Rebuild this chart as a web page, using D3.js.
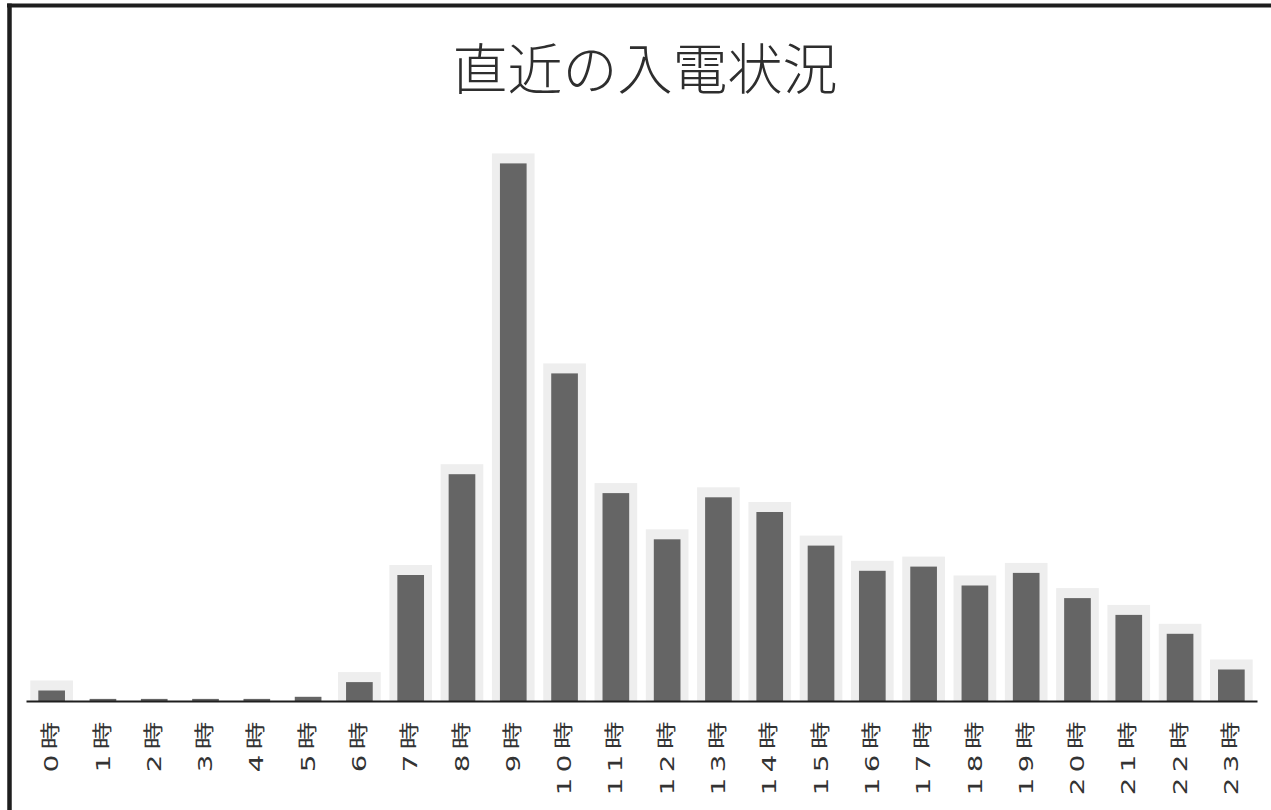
<!DOCTYPE html>
<html>
<head>
<meta charset="utf-8">
<script src="https://cdn.jsdelivr.net/npm/d3@7"></script>
<style>
  body { margin: 0; background: #fff; }
  svg { display: block; }
</style>
</head>
<body>
<div id="chart"></div>
<script>
// データ
const titleText = "直近の入電状況";
const hours = ["0時", "1時", "2時", "3時", "4時", "5時", "6時", "7時", "8時", "9時", "10時", "11時",
  "12時", "13時", "14時", "15時", "16時", "17時", "18時", "19時", "20時", "21時", "22時", "23時"];
const calls = [5, 1, 1, 1, 1, 2, 9, 60, 108, 256, 156, 99, 77, 97, 90, 74, 62, 64, 55, 61, 49, 41, 32, 15];

const width = 1271;
const height = 810;
const baseY = 701;

const svg = d3.select("#chart")
  .append("svg")
  .attr("width", width)
  .attr("height", height);

svg.append("rect")
  .attr("width", width)
  .attr("height", height)
  .attr("fill", "#fff");

// 枠 (上と左)
svg.append("line")
  .attr("x1", 7).attr("x2", width)
  .attr("y1", 5.5).attr("y2", 5.5)
  .attr("stroke", "#1e1e1e").attr("stroke-width", 4);
svg.append("line")
  .attr("x1", 9.5).attr("x2", 9.5)
  .attr("y1", 3.5).attr("y2", height)
  .attr("stroke", "#1e1e1e").attr("stroke-width", 4.5);

const x = d3.scaleBand()
  .domain(hours)
  .range([26, 1257])
  .paddingInner(0.48)
  .paddingOuter(0.24);

const y = d3.scaleLinear()
  .domain([0, d3.max(calls)])
  .range([baseY, baseY - d3.max(calls) * 2.1]);

const data = hours.map((h, i) => ({ hour: h, value: calls[i] }));

// 棒のにじみ (スキャンの影)
svg.append("g")
  .selectAll("rect")
  .data(data.filter((d) => d.value > 3))
  .join("rect")
  .attr("x", (d) => x(d.hour) - 8)
  .attr("y", (d) => y(d.value) - 10)
  .attr("width", x.bandwidth() + 16)
  .attr("height", (d) => baseY - y(d.value) + 10)
  .attr("fill", "#eeeeee");

// 棒
svg.append("g")
  .selectAll("rect")
  .data(data)
  .join("rect")
  .attr("x", (d) => x(d.hour))
  .attr("y", (d) => y(d.value))
  .attr("width", x.bandwidth())
  .attr("height", (d) => baseY - y(d.value))
  .attr("fill", "#656565");

// 軸
const axis = svg.append("g")
  .attr("transform", `translate(0,${baseY})`)
  .call(d3.axisBottom(x).tickSize(0).tickSizeOuter(0));

axis.select(".domain")
  .attr("stroke", "#1e1e1e")
  .attr("stroke-width", 2);

axis.selectAll(".tick text")
  .attr("x", 0)
  .attr("y", 0)
  .attr("dy", 0)
  .attr("transform", "translate(0,15) rotate(-90) scale(1.38,1)")
  .attr("text-anchor", "end")
  .attr("dominant-baseline", "central")
  .style("font-family", "'DejaVu Sans', 'Noto Sans CJK JP', sans-serif")
  .style("font-size", "20px")
  .style("letter-spacing", "4px")
  .style("fill", "#333");

// タイトル
svg.append("text")
  .attr("x", 645)
  .attr("y", 65)
  .attr("text-anchor", "middle")
  .attr("dominant-baseline", "central")
  .style("font-family", "'Noto Sans CJK JP', sans-serif")
  .style("font-size", "55px")
  .style("font-weight", 300)
  .style("fill", "#2e2e2e")
  .text(titleText);
</script>
</body>
</html>
